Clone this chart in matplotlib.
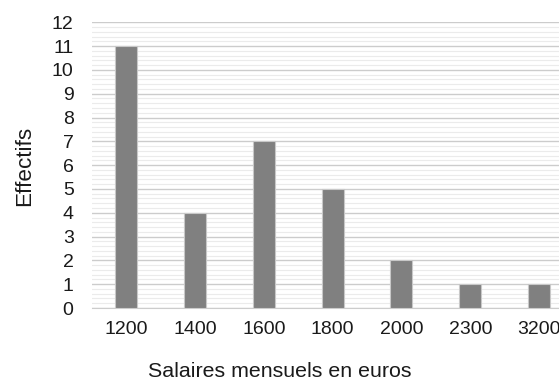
import matplotlib
matplotlib.use("Agg")
import matplotlib.pyplot as plt
from matplotlib.ticker import MultipleLocator

categories = ["1200", "1400", "1600", "1800", "2000", "2300", "3200"]
effectifs = [11, 4, 7, 5, 2, 1, 1]

plt.rcParams['font.family'] = ['Liberation Sans', 'DejaVu Sans']

fig = plt.figure(figsize=(5.59, 3.81), dpi=100)
ax = fig.add_axes([0.164, 0.1916, 0.862, 0.750])

x = range(len(categories))
ax.bar(x, effectifs, width=0.32, color='#808080', edgecolor='#c8c8c8', linewidth=0.8, zorder=3)

ax.set_xlim(-0.5, len(categories) - 0.5)
ax.set_ylim(0, 12)
ax.yaxis.set_major_locator(MultipleLocator(1))
ax.yaxis.set_minor_locator(MultipleLocator(0.2))
ax.grid(which='major', axis='y', color='#cccccc', linewidth=1.0, zorder=0)
ax.grid(which='minor', axis='y', color='#ebebeb', linewidth=0.8, zorder=0)
ax.set_axisbelow(True)

ax.set_xticks(list(x))
ax.set_xticklabels(categories)
for s in ['top', 'right', 'left']:
    ax.spines[s].set_visible(False)
ax.spines['bottom'].set_color('#cccccc')
ax.tick_params(axis='both', which='both', length=0, labelsize=14, colors='#1a1a1a')
ax.tick_params(axis='x', pad=9)
ax.tick_params(axis='y', pad=13)

ax.set_xlabel('Salaires mensuels en euros', fontsize=15.4, color='#1a1a1a')
ax.xaxis.label.set_verticalalignment('baseline')
ax.xaxis.set_label_coords(0.391, -0.241)
ax.set_ylabel('Effectifs', fontsize=16.2, color='#1a1a1a')
ax.yaxis.label.set_verticalalignment('center')
ax.yaxis.set_label_coords(-0.140, 0.497)

fig.savefig('out.png', dpi=100)
